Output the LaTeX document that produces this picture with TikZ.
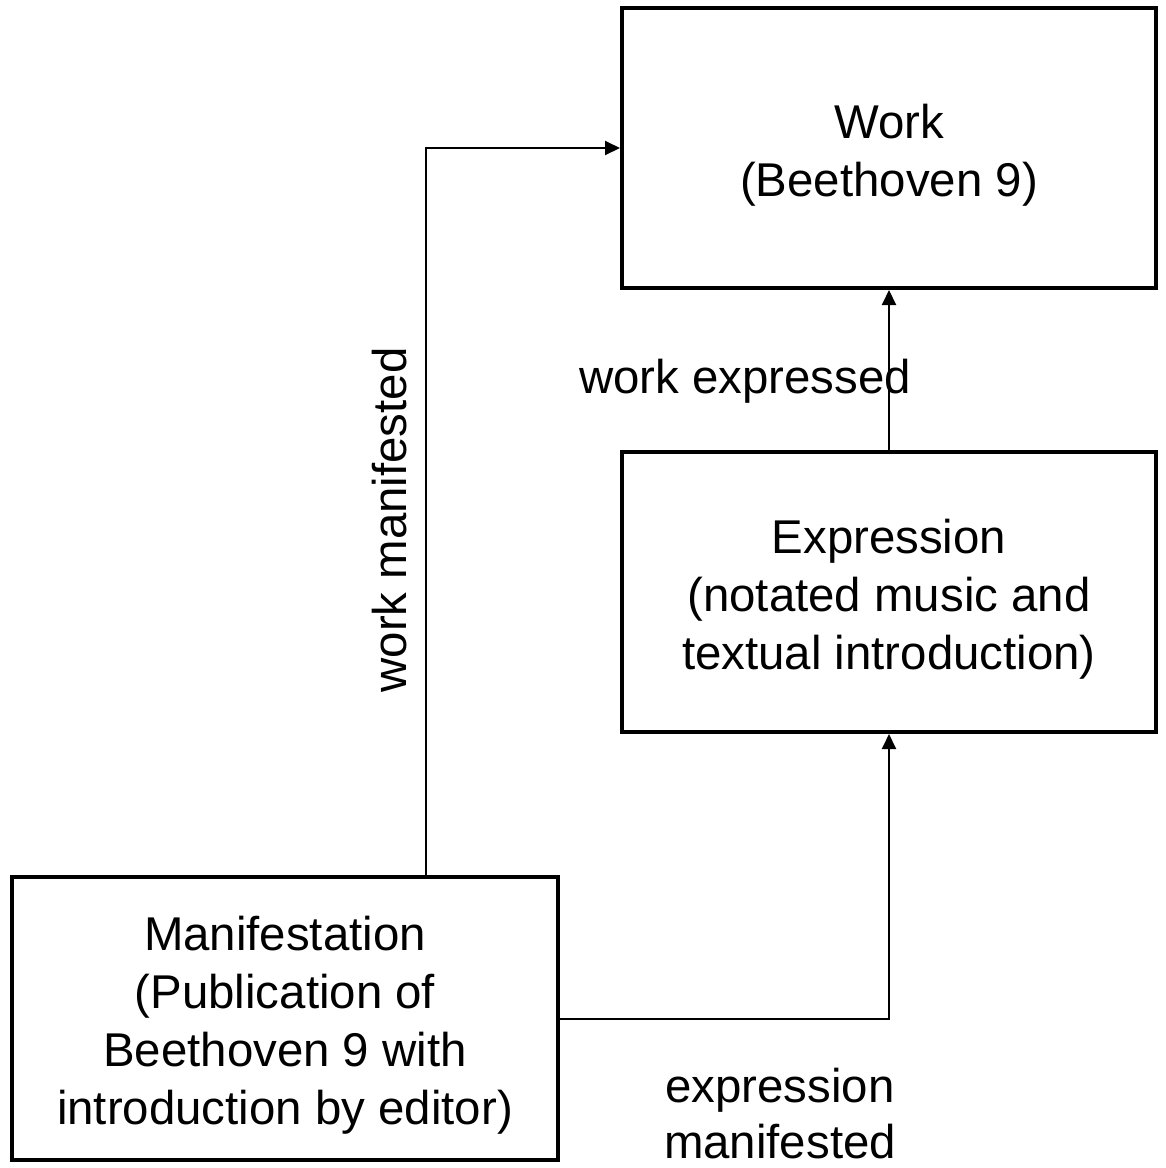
\documentclass[tikz,border=0pt]{standalone}
\usepackage{fontspec}
\setmainfont{Liberation Sans}
\usetikzlibrary{arrows.meta}

\newcommand{\toprule}{\rule{0pt}{48pt}}

\tikzset{
	entity/.style = {draw, line width = 4, minimum width = 534, minimum height = 280, align = center, inner sep = 0, font = \fontsize{47.4}{58}\selectfont},
	lbl/.style = {align = center, inner sep = 0, font = \fontsize{47.4}{56}\selectfont},
	rel/.style = {line width = 2, -{Triangle[length = 15, width = 14]}}
}

\begin{document}
\begin{tikzpicture}[x = 1pt, y = -1pt]
		\useasboundingbox (0,0) rectangle (1166,1168);
		\node[entity] (work) at (889,148) {\toprule Work\\(Beethoven 9)};
		\node[entity] (expr) at (889,592) {\toprule Expression\\(notated music and\\textual introduction)};
		\node[entity, minimum width = 546, minimum height = 283] (manif) at (285,1018.5) {\toprule Manifestation\\(Publication of\\Beethoven 9 with\\introduction by editor)};
		\coordinate (wmx) at (426,0);
		\draw[rel] (wmx |- manif.north) |- (work.west);
		\draw[rel] (expr.north) -- (work.south);
		\draw[rel] (manif.east) -| (expr.south);
		\node[lbl, rotate = 90] (wmlbl) at (390,520) {work manifested};
		\node[lbl] (welbl) at (745,381) {work expressed};
		\node[lbl] (emlbl) at (780,1114) {expression\\manifested};
	\end{tikzpicture}
\end{document}
